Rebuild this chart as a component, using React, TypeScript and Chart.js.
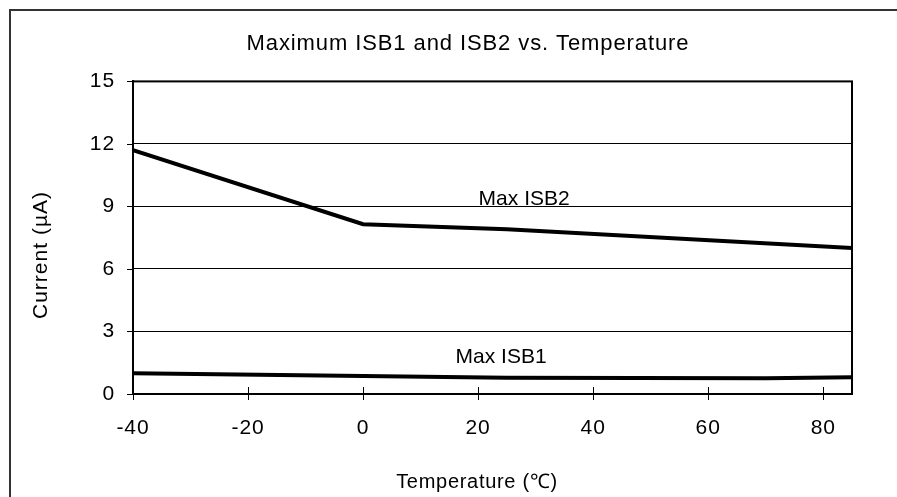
import React, { useEffect, useRef } from "react";
import { Chart, registerables } from "chart.js";

Chart.register(...registerables);

const chartTitle = "Maximum ISB1 and ISB2 vs. Temperature";
const xAxisTitle = "Temperature (℃)";
const yAxisTitle = "Current (µA)";
const xTickValues = [-40, -20, 0, 20, 40, 60, 80];
const yTickValues = [0, 3, 6, 9, 12, 15];

const isb2Temps = [-40, 0, 25, 85];
const isb2Values = [11.7, 8.15, 7.9, 7.0];

const isb1Temps = [-40, 0, 25, 70, 85];
const isb1Values = [1.0, 0.86, 0.78, 0.75, 0.8];

const seriesLabels = ["Max ISB2", "Max ISB1"];
const labelTemps = [28, 24];
const labelValues = [9.36, 1.78];

const FONT = "'Liberation Sans', Arial, Helvetica, sans-serif";

const decorPlugin = {
  id: "decor",
  beforeDraw(chart: any) {
    const ctx = chart.ctx;
    ctx.save();
    ctx.fillStyle = "#ffffff";
    ctx.fillRect(0, 0, chart.width, chart.height);
    ctx.strokeStyle = "#333333";
    ctx.lineWidth = 2;
    ctx.strokeRect(10, 10, 3000, 3000);
    ctx.restore();
    try {
      (ctx as any).letterSpacing = "0.9px";
    } catch (e) {}
  },
  afterDraw(chart: any) {
    const { ctx, chartArea: a, scales } = chart;
    ctx.save();
    ctx.strokeStyle = "#000";
    ctx.lineWidth = 2;
    ctx.strokeRect(a.left, a.top, a.right - a.left, a.bottom - a.top);
    ctx.lineWidth = 1;
    ctx.beginPath();
    yTickValues.forEach((v) => {
      const y = Math.round(scales.y.getPixelForValue(v)) + 0.5;
      ctx.moveTo(a.left - 6, y);
      ctx.lineTo(a.left, y);
    });
    xTickValues.forEach((v) => {
      const x = Math.round(scales.x.getPixelForValue(v)) + 0.5;
      ctx.moveTo(x, a.bottom - 7);
      ctx.lineTo(x, a.bottom + 6);
    });
    ctx.stroke();

    ctx.fillStyle = "#000";
    ctx.textAlign = "center";
    ctx.textBaseline = "middle";
    (ctx as any).letterSpacing = "0px";
    ctx.font = `21px ${FONT}`;
    seriesLabels.forEach((t, i) => {
      ctx.fillText(
        t,
        scales.x.getPixelForValue(labelTemps[i]),
        scales.y.getPixelForValue(labelValues[i])
      );
    });

    (ctx as any).letterSpacing = "0.7px";
    ctx.font = `20px ${FONT}`;
    ctx.fillText(xAxisTitle, 477, 482);

    ctx.translate(41, 255);
    ctx.rotate(-Math.PI / 2);
    (ctx as any).letterSpacing = "1px";
    ctx.font = `21px ${FONT}`;
    ctx.fillText(yAxisTitle, 0, 0);
    ctx.restore();
  },
};

export default function App() {
  const canvasRef = useRef<HTMLCanvasElement | null>(null);

  useEffect(() => {
    document.body.style.margin = "0";
    const canvas = canvasRef.current;
    if (!canvas) return;
    const chart = new Chart(canvas, {
      type: "line",
      data: {
        datasets: [
          {
            label: seriesLabels[0],
            data: isb2Temps.map((t, i) => ({ x: t, y: isb2Values[i] })),
            borderColor: "#000",
            borderWidth: 4,
            pointRadius: 0,
            tension: 0,
            fill: false,
          },
          {
            label: seriesLabels[1],
            data: isb1Temps.map((t, i) => ({ x: t, y: isb1Values[i] })),
            borderColor: "#000",
            borderWidth: 4,
            pointRadius: 0,
            tension: 0,
            fill: false,
          },
        ],
      },
      options: {
        responsive: false,
        animation: false,
        layout: { padding: { left: 84, right: 45, top: 0, bottom: 0 } },
        plugins: {
          legend: { display: false },
          tooltip: { enabled: false },
          title: {
            display: true,
            text: chartTitle,
            color: "#000",
            font: { family: FONT, size: 22, weight: "normal" },
            padding: { top: 31, bottom: 24 },
          },
        },
        scales: {
          x: {
            type: "linear",
            min: -40,
            max: 85,
            afterBuildTicks: (scale: any) => {
              scale.ticks = xTickValues.map((v) => ({ value: v }));
            },
            afterFit: (scale: any) => {
              scale.height = 103;
            },
            grid: { display: false, drawTicks: false },
            border: { display: true, color: "#000", width: 2 },
            ticks: {
              color: "#000",
              padding: 22,
              maxRotation: 0,
              font: { family: FONT, size: 21 },
            },
            title: { display: false, text: xAxisTitle },
          },
          y: {
            type: "linear",
            min: 0,
            max: 15,
            afterBuildTicks: (scale: any) => {
              scale.ticks = yTickValues.map((v) => ({ value: v }));
            },
            afterFit: (scale: any) => {
              scale.width = 49;
            },
            grid: { color: "#000", lineWidth: 1, drawTicks: false },
            border: { display: true, color: "#000", width: 2 },
            ticks: {
              color: "#000",
              padding: 18,
              font: { family: FONT, size: 21 },
            },
            title: { display: false, text: yAxisTitle },
          },
        },
      },
      plugins: [decorPlugin],
    } as any);
    return () => chart.destroy();
  }, []);

  return (
    <div style={{ width: 897, height: 497 }}>
      <canvas ref={canvasRef} width={897} height={497} />
    </div>
  );
}
